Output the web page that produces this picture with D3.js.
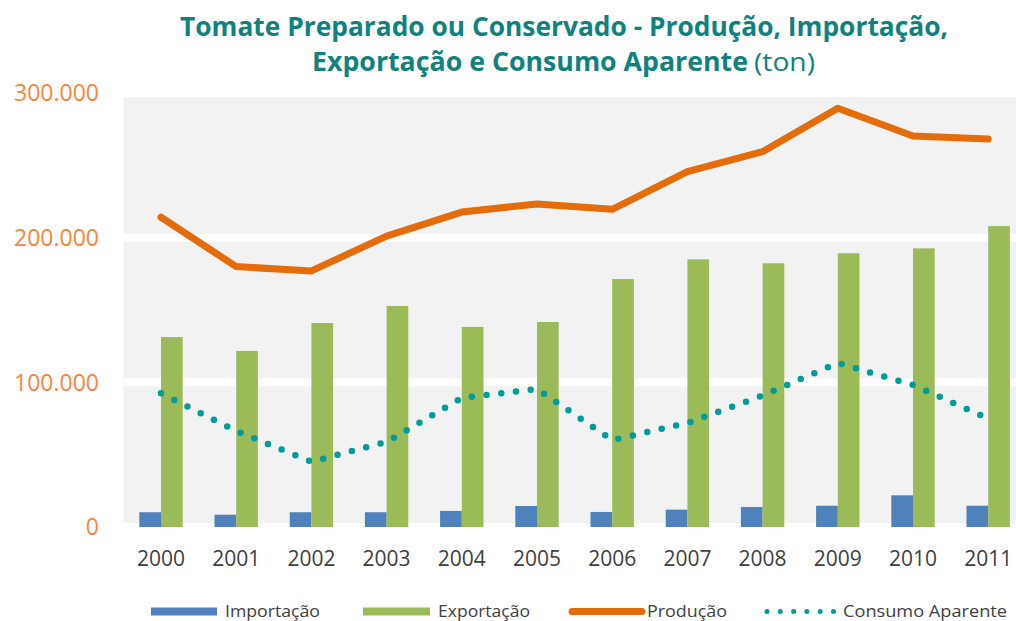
<!DOCTYPE html>
<html>
<head>
<meta charset="utf-8">
<script src="https://cdn.jsdelivr.net/npm/d3@7"></script>
<style>
  html, body { margin: 0; padding: 0; background: #fff; }
  svg { display: block; }
</style>
</head>
<body>
<svg id="chart" width="1016" height="621"></svg>
<script>
const years = ["2000","2001","2002","2003","2004","2005","2006","2007","2008","2009","2010","2011"];
const importacao = [10200, 8500, 10200, 10200, 11100, 14500, 10400, 12000, 13800, 14700, 21900, 14700];
const exportacao = [131300, 121700, 141000, 152800, 138300, 141700, 171400, 185000, 182300, 189200, 192600, 208000];
const producao = [214100, 180000, 177000, 201100, 217700, 223300, 219600, 245600, 259400, 289400, 270300, 268200];
const consumo = [92400, 66400, 45100, 58800, 89200, 95400, 60100, 71900, 90800, 113400, 98200, 75000];
const yTicks = [0, 100000, 200000, 300000];
const yTickLabels = ["0", "100.000", "200.000", "300.000"];
const seriesNames = ["Importação", "Exportação", "Produção", "Consumo Aparente"];

const svg = d3.select("#chart");
const FONT = "'Open Sans', 'Noto Sans', sans-serif";
const C = { imp: "#4F81BD", exp: "#9BBB59", prod: "#E46C0A", cons: "#009C99", title: "#10827E", ylab: "#F7863C", txt: "#404040", bg: "#F2F2F2" };

const left = 123.4, right = 1025.8, yBottom = 527, yTop = 93;
const x0 = d3.scaleBand().domain(years).range([left, right]).paddingInner(0.423).paddingOuter(0.2115);
const x1 = d3.scaleBand().domain(["imp","exp"]).range([0, x0.bandwidth()]);
const y = d3.scaleLinear().domain([0, 300000]).range([yBottom, yTop]);
const cx = d => x0(d) + x0.bandwidth() / 2;

// plot background
svg.append("rect").attr("x", left).attr("y", yTop).attr("width", 1016 - left).attr("height", yBottom - yTop).attr("fill", C.bg);

// white gridlines
svg.append("g").selectAll("line").data(yTicks).join("line")
  .attr("x1", left).attr("x2", 1016)
  .attr("y1", d => y(d)).attr("y2", d => y(d))
  .attr("stroke", "#fff").attr("stroke-width", 8);

// y labels
svg.append("g").selectAll("text").data(yTicks).join("text")
  .attr("x", 99).attr("y", d => y(d)).attr("dy", "0.36em")
  .attr("text-anchor", "end")
  .attr("font-family", FONT).attr("font-size", 23).attr("fill", C.ylab)
  .text((d, i) => yTickLabels[i]);

// x labels
svg.append("g").selectAll("text").data(years).join("text")
  .attr("x", d => cx(d)).attr("y", 566)
  .attr("text-anchor", "middle")
  .attr("font-family", FONT).attr("font-size", 21).attr("fill", C.txt)
  .text(d => d);

// bars
const g = svg.append("g").selectAll("g").data(years).join("g")
  .attr("transform", d => `translate(${x0(d)},0)`);
g.append("rect")
  .attr("x", x1("imp")).attr("width", x1.bandwidth())
  .attr("y", (d, i) => y(importacao[i])).attr("height", (d, i) => y(0) - y(importacao[i]))
  .attr("fill", C.imp);
g.append("rect")
  .attr("x", x1("exp")).attr("width", x1.bandwidth())
  .attr("y", (d, i) => y(exportacao[i])).attr("height", (d, i) => y(0) - y(exportacao[i]))
  .attr("fill", C.exp);

// production line
const line = d3.line().x((d, i) => cx(years[i])).y(d => y(d));
svg.append("path").datum(producao).attr("d", line)
  .attr("fill", "none").attr("stroke", C.prod).attr("stroke-width", 7)
  .attr("stroke-linecap", "round").attr("stroke-linejoin", "round");

// consumo dotted line
svg.append("path").datum(consumo).attr("d", line)
  .attr("fill", "none").attr("stroke", C.cons).attr("stroke-width", 6.5)
  .attr("stroke-linecap", "round").attr("stroke-dasharray", "0 14.8");

// title
svg.append("text").attr("x", 180).attr("y", 36)
  .attr("font-family", FONT).attr("font-weight", "bold").attr("font-size", 26).attr("fill", C.title)
  .attr("textLength", 768).attr("lengthAdjust", "spacingAndGlyphs")
  .text("Tomate Preparado ou Conservado - Produção, Importação,");
svg.append("text").attr("x", 312).attr("y", 71)
  .attr("font-family", FONT).attr("font-weight", "bold").attr("font-size", 26).attr("fill", C.title)
  .attr("textLength", 436).attr("lengthAdjust", "spacingAndGlyphs")
  .text("Exportação e Consumo Aparente");
svg.append("text").attr("x", 754).attr("y", 71)
  .attr("font-family", FONT).attr("font-size", 26).attr("fill", C.title)
  .attr("textLength", 61).attr("lengthAdjust", "spacingAndGlyphs")
  .text("(ton)");

// legend
const ly = 611.5, lty = 617;
const legend = [
  { name: seriesNames[0], type: "rect", color: C.imp, sx: 151, sw: 66, tx: 225, tw: 95 },
  { name: seriesNames[1], type: "rect", color: C.exp, sx: 363, sw: 67, tx: 438, tw: 92 },
  { name: seriesNames[2], type: "line", color: C.prod, sx: 572, sw: 70, tx: 647, tw: 80 },
  { name: seriesNames[3], type: "dots", color: C.cons, sx: 767, sw: 67, tx: 843, tw: 164 }
];
const lg = svg.append("g");
legend.forEach(L => {
  if (L.type === "rect") {
    lg.append("rect").attr("x", L.sx).attr("y", ly - 4).attr("width", L.sw).attr("height", 8).attr("fill", L.color);
  } else if (L.type === "line") {
    lg.append("line").attr("x1", L.sx).attr("x2", L.sx + L.sw).attr("y1", ly).attr("y2", ly)
      .attr("stroke", L.color).attr("stroke-width", 7).attr("stroke-linecap", "round");
  } else {
    lg.append("line").attr("x1", L.sx).attr("x2", L.sx + L.sw).attr("y1", ly).attr("y2", ly)
      .attr("stroke", L.color).attr("stroke-width", 5).attr("stroke-linecap", "round").attr("stroke-dasharray", "0 13.3");
  }
  lg.append("text").attr("x", L.tx).attr("y", lty)
    .attr("font-family", FONT).attr("font-size", 16.5).attr("fill", C.txt)
    .attr("textLength", L.tw).attr("lengthAdjust", "spacingAndGlyphs")
    .text(L.name);
});
</script>
</body>
</html>
